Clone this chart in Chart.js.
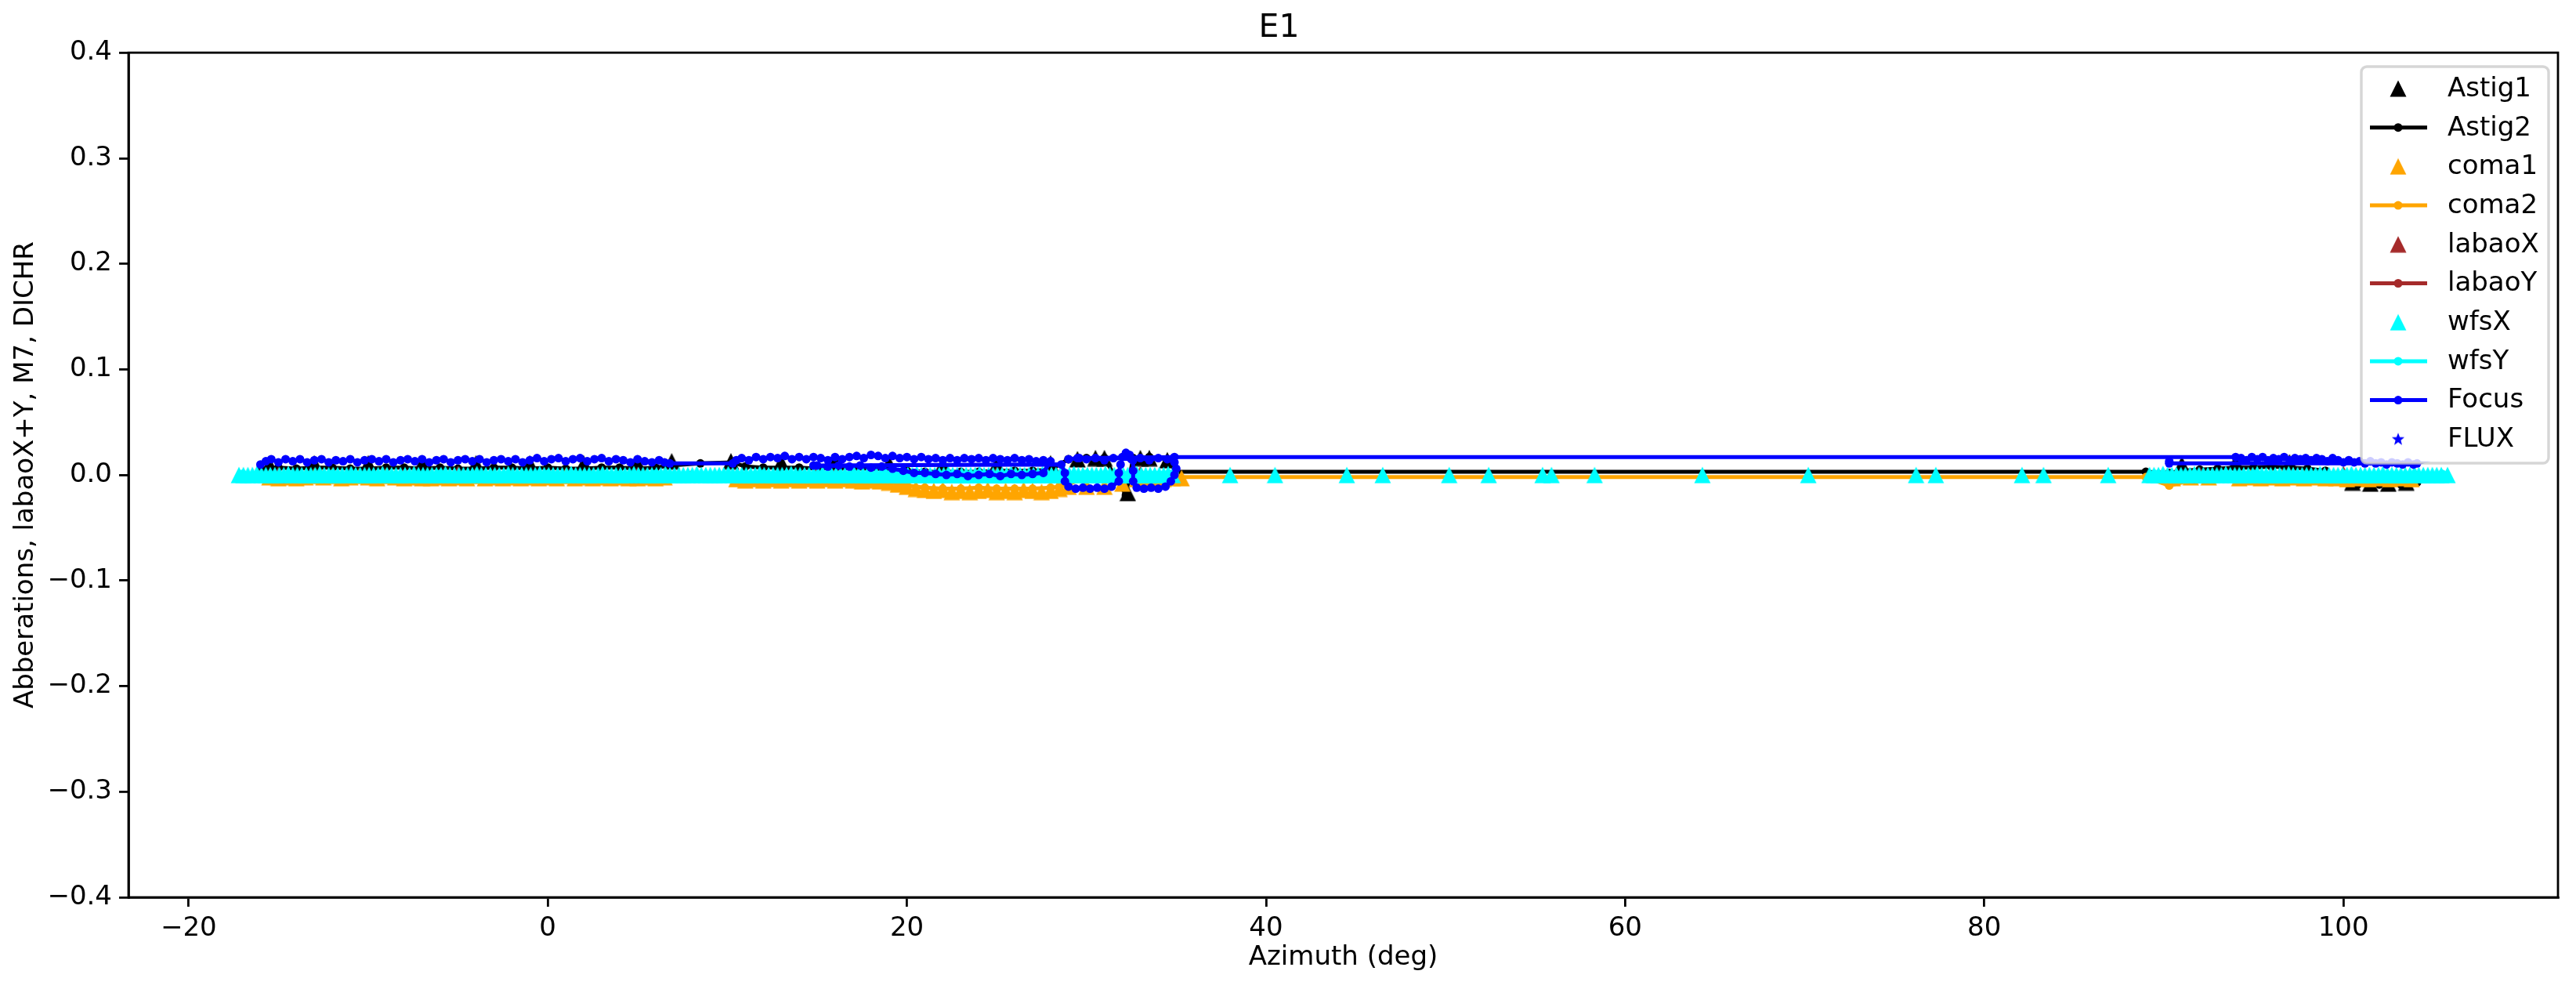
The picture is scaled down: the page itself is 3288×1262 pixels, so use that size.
<!DOCTYPE html>
<html>
<head>
<meta charset="utf-8">
<script src="https://cdn.jsdelivr.net/npm/chart.js@4.4.1/dist/chart.umd.min.js"></script>
<style>
  html, body { margin: 0; padding: 0; background: #fff; }
  canvas { display: block; }
</style>
</head>
<body>
<canvas id="aberrChart" width="3288" height="1262" style="width:3288px;height:1262px"></canvas>
<script>
// axis ticks
const xTicks = [-20, 0, 20, 40, 60, 80, 100];
const yTicks = [-0.4, -0.3, -0.2, -0.1, 0.0, 0.1, 0.2, 0.3, 0.4];

// series, [azimuth, value]; null value = gap in the line
const astig1 = [
  [-15.5,0.010],[-13,0.011],[-10,0.011],[-7,0.011],[-4,0.011],[-1,0.011],[2,0.011],[5,0.011],[6.9,0.013],
  [10.2,0.013],[13,0.012],[16,0.012],[19,0.011],[22,0.010],[25,0.010],[28,0.011],[29.5,0.015],[30.5,0.016],[31,0.016],
  [32.3,-0.017],[33.0,0.016],[33.5,0.016],[34.5,0.014],[91,0.010],[94,0.012],[97,0.012],[100.5,-0.007],[101.5,-0.008],
  [102.5,-0.008],[103.5,-0.007]
];
const astig2 = [
  [-16.0,0.006],[-15,0.007],[-14,0.006],[-13,0.007],[-12,0.007],[-11,0.006],[-10,0.006],[-9,0.007],[-8,0.007],
  [-7,0.006],[-6,0.007],[-5,0.006],[-4,0.006],[-3,0.007],[-2,0.007],[-1,0.006],[0,0.007],[1,0.006],[2,0.006],
  [3,0.007],[4,0.007],[5,0.006],[6,0.007],[6.8,0.009],[8.5,0.011],[10.3,0.012],[11,0.008],[12,0.007],[13,0.007],
  [14,0.007],[15,0.006],[16,0.007],[17,0.006],[18,0.006],[19,0.005],[20,0.004],[21,0.003],[22,0.003],[23,0.003],
  [24,0.003],[25,0.004],[26,0.004],[27,0.004],[28,0.005],[29,0.015],[30,0.016],[31,0.016],[32.2,-0.019],
  [32.6,0.016],[33.5,0.017],[34.5,0.015],[35,0.003],[89,0.003],[90.3,0.002],[91,0.004],[92,0.005],[93,0.006],
  [94,0.007],[95,0.007],[96,0.008],[97,0.007],[98,0.006],[99,0.004],[100.2,-0.007],[100.8,-0.009],[101.4,-0.008],
  [102,-0.009],[102.6,-0.008],[103.2,-0.009],[103.7,-0.008],[104.1,-0.007]
];
const coma1 = [
  [-15.5,-0.002],[-15.0,-0.003],[-14.5,-0.002],[-14.0,-0.003],[-13.5,-0.002],[-13.0,-0.001],[-12.5,-0.002],
  [-12.0,-0.001],[-11.5,-0.003],[-11.0,-0.002],[-10.5,-0.001],[-10.0,-0.002],[-9.5,-0.003],[-9.0,-0.001],
  [-8.5,-0.002],[-8.0,-0.003],[-7.5,-0.002],[-7.0,-0.003],[-6.5,-0.003],[-6.0,-0.002],[-5.5,-0.003],
  [-5.0,-0.002],[-4.5,-0.003],[-4.0,-0.001],[-3.5,-0.003],[-3.0,-0.002],[-2.5,-0.003],[-2.0,-0.002],
  [-1.5,-0.003],[-1.0,-0.002],[-0.5,-0.003],[0.0,-0.002],[0.5,-0.003],[1.0,-0.001],[1.5,-0.003],[2.0,-0.002],
  [2.5,-0.003],[3.0,-0.002],[3.5,-0.003],[4.0,-0.002],[4.5,-0.003],[5.0,-0.003],[5.5,-0.002],[6.0,-0.003],
  [6.5,-0.002],[10.5,-0.004],[11.0,-0.005],[11.5,-0.004],[12.0,-0.005],[12.5,-0.004],[13.0,-0.005],
  [13.5,-0.004],[14.0,-0.005],[14.5,-0.004],[15.0,-0.005],[15.5,-0.004],[16.0,-0.005],[16.5,-0.004],
  [17.0,-0.005],[17.5,-0.006],[18.0,-0.005],[18.5,-0.006],[19.0,-0.007],[19.5,-0.009],[20.0,-0.011],
  [20.5,-0.013],[21.0,-0.014],[21.5,-0.015],[22.0,-0.014],[22.5,-0.016],[23.0,-0.015],[23.5,-0.016],
  [24.0,-0.015],[24.5,-0.014],[25.0,-0.016],[25.5,-0.015],[26.0,-0.016],[26.5,-0.014],[27.0,-0.015],
  [27.5,-0.016],[28.0,-0.015],[28.5,-0.013],[29.0,-0.011],[30.0,-0.011],[31.0,-0.011],[32.0,-0.008],
  [32.8,-0.004],[33.3,-0.004],[33.8,-0.003],[34.3,-0.004],[34.8,-0.003],[35.3,-0.003],
  [90.5,-0.003],[91.5,-0.002],[92.5,-0.002],[94.2,-0.003],[94.8,-0.002],[95.4,-0.003],[96.0,-0.002],
  [96.6,-0.003],[97.2,-0.002],[97.8,-0.003],[98.4,-0.002],[99.0,-0.003],[99.6,-0.003],[100.2,-0.004],
  [100.8,-0.003],[101.4,-0.004],[102.0,-0.003],[102.6,-0.004],[103.2,-0.003],[103.8,-0.004]
];
const coma2 = [
  [-16,-0.002],[-14.5,-0.003],[-13,-0.003],[-11.5,-0.002],[-10,-0.002],[-8.5,-0.003],[-7,-0.003],[-5.5,-0.002],
  [-4,-0.002],[-2.5,-0.003],[-1,-0.003],[0.5,-0.002],[2,-0.002],[3.5,-0.003],[5,-0.003],[6.8,-0.002],
  [10.3,-0.004],[11.5,-0.004],[13,-0.004],[14.5,-0.005],[16,-0.004],[17.5,-0.005],[19,-0.006],[20,-0.010],
  [21,-0.012],[22,-0.013],[23,-0.013],[24,-0.012],[25,-0.013],[26,-0.013],[27,-0.013],[28,-0.012],
  [28.5,-0.011],[30,-0.003],[32,-0.002],[35,-0.002],[89,-0.002],[90.3,-0.010],[92,-0.003],[95,-0.003],
  [98,-0.003],[101,-0.004],[104,-0.004]
];
const labaoX = [
  [-15,0.000],[-5,0.001],[5,0.000],[15,0.001],[25,0.000],[33,0.001],[92,0.000],[100,0.001]
];
const labaoY = [
  [-16,0.000],[-8,0.001],[0,0.000],[8,0.000],[16,0.001],[24,0.000],[32,0.000],[34.8,0.001],
  [60,null],[90,0.000],[97,0.001],[104,0.000]
];
const wfsX = [
  [-17.2,0],[-16.95,0],[-16.7,0],[-16.45,0],[-16.2,0.001],[-15.95,0],[-15.7,0],[-15.45,0],[-15.2,0],[-14.95,0],
  [-14.7,0],[-14.45,0.001],[-14.2,0],[-13.95,0],[-13.7,0],[-13.45,0],[-13.2,0],[-12.95,0],[-12.7,0.001],[-12.45,0],
  [-12.2,0],[-11.95,0],[-11.7,0],[-11.45,0],[-11.2,0],[-10.95,0.001],[-10.7,0],[-10.45,0],[-10.2,0],[-9.95,0],
  [-9.7,0],[-9.45,0],[-9.2,0.001],[-8.95,0],[-8.7,0],[-8.45,0],[-8.2,0],[-7.95,0],[-7.7,0],[-7.45,0.001],
  [-7.2,0],[-6.95,0],[-6.7,0],[-6.45,0],[-6.2,0],[-5.95,0],[-5.7,0.001],[-5.45,0],[-5.2,0],[-4.95,0],
  [-4.7,0],[-4.45,0],[-4.2,0],[-3.95,0.001],[-3.7,0],[-3.45,0],[-3.2,0],[-2.95,0],[-2.7,0],[-2.45,0],
  [-2.2,0.001],[-1.95,0],[-1.7,0],[-1.45,0],[-1.2,0],[-0.95,0],[-0.7,0],[-0.45,0.001],[-0.2,0],[0.05,0],
  [0.3,0],[0.55,0],[0.8,0],[1.05,0],[1.3,0.001],[1.55,0],[1.8,0],[2.05,0],[2.3,0],[2.55,0],
  [2.8,0],[3.05,0.001],[3.3,0],[3.55,0],[3.8,0],[4.05,0],[4.3,0],[4.55,0],[4.8,0.001],[5.05,0],
  [5.3,0],[5.55,0],[5.8,0],[6.05,0],[6.3,0],[6.55,0.001],[6.8,0],[7.05,0],[7.3,0],[7.55,0],
  [7.8,0],[8.05,0],[8.3,0.001],[8.55,0],[8.8,0],[9.05,0],[9.3,0],[9.55,0],[9.8,0],[10.05,0.001],
  [10.3,0],[10.55,0],[10.8,0],[11.05,0],[11.3,0],[11.55,0],[11.8,0.001],[12.05,0],[12.3,0],[12.55,0],
  [12.8,0],[13.05,0],[13.3,0],[13.55,0.001],[13.8,0],[14.05,0],[14.3,0],[14.55,0],[14.8,0],[15.05,0],
  [15.3,0.001],[15.55,0],[15.8,0],[16.05,0],[16.3,0],[16.55,0],[16.8,0],[17.05,0.001],[17.3,0],[17.55,0],
  [17.8,0],[18.05,0],[18.3,0],[18.55,0],[18.8,0.001],[19.05,0],[19.3,0],[19.55,0],[19.8,0],[20.05,0],
  [20.3,0],[20.55,0.001],[20.8,0],[21.05,0],[21.3,0],[21.55,0],[21.8,0],[22.05,0],[22.3,0.001],[22.55,0],
  [22.8,0],[23.05,0],[23.3,0],[23.55,0],[23.8,0],[24.05,0.001],[24.3,0],[24.55,0],[24.8,0],[25.05,0],
  [25.3,0],[25.55,0],[25.8,0.001],[26.05,0],[26.3,0],[26.55,0],[26.8,0],[27.05,0],[27.3,0],[27.55,0.001],
  [27.8,0],[28.05,0],[28.3,0],[28.55,0],[28.8,0],[29.05,0],[29.3,0.001],[29.55,0],[29.8,0],[30.05,0],
  [30.3,0],[30.55,0],[30.8,0],[31.05,0.001],[31.3,0],[31.55,0],[31.8,0],[32.05,0],[32.3,0],[32.55,0],
  [32.8,0.001],[33.05,0],[33.3,0],[33.55,0],[33.8,0],[34.05,0],[34.3,0],[34.55,0.001],[34.8,0],
  [38.0,0],[40.5,0],[44.5,0],[46.5,0],[50.2,0],[52.4,0],[55.4,0],[55.9,0],
  [58.3,0],[64.3,0],[70.2,0],[76.2,0],[77.3,0],[82.1,0],[83.3,0],[86.9,0],
  [89.2,0],[89.45,0],[89.7,0],[89.95,0.001],[90.2,0],[90.45,0],[90.7,0],[90.95,0],[91.2,0],[91.45,0],
  [91.7,0.001],[91.95,0],[92.2,0],[92.45,0],[92.7,0],[92.95,0],[93.2,0],[93.45,0.001],[93.7,0],[93.95,0],
  [94.2,0],[94.45,0],[94.7,0],[94.95,0],[95.2,0.001],[95.45,0],[95.7,0],[95.95,0],[96.2,0],[96.45,0],
  [96.7,0],[96.95,0.001],[97.2,0],[97.45,0],[97.7,0],[97.95,0],[98.2,0],[98.45,0],[98.7,0.001],[98.95,0],
  [99.2,0],[99.45,0],[99.7,0],[99.95,0],[100.2,0],[100.45,0.001],[100.7,0],[100.95,0],[101.2,0],[101.45,0],
  [101.7,0],[101.95,0],[102.2,0.001],[102.45,0],[102.7,0],[102.95,0],[103.2,0],[103.45,0],[103.7,0],[103.95,0.001],
  [104.2,0],[104.45,0],[104.7,0],[104.95,0],[105.2,0],[105.45,0],[105.8,0]
];
const wfsY = [
  [-17,0.001],[-12,0.001],[-6,0.001],[0,0.001],[6,0.001],[12,0.001],[18,0.001],[24,0.001],[30,0.001],[34.9,0.002],
  [60,null],[89.5,0.001],[95,0.001],[100,0.001],[105.5,0.001]
];
const focus = [
  [-16.0,0.010],[-15.7,0.013],[-15.4,0.015],[-15.0,0.012],[-14.6,0.015],[-14.2,0.013],[-13.8,0.015],[-13.4,0.012],
  [-13.0,0.014],[-12.6,0.015],[-12.2,0.012],[-11.8,0.014],[-11.4,0.013],[-11.0,0.015],[-10.6,0.012],[-10.2,0.014],
  [-9.8,0.015],[-9.4,0.013],[-9.0,0.015],[-8.6,0.012],[-8.2,0.014],[-7.8,0.015],[-7.4,0.013],[-7.0,0.015],
  [-6.6,0.012],[-6.2,0.014],[-5.8,0.015],[-5.4,0.012],[-5.0,0.014],[-4.6,0.015],[-4.2,0.013],[-3.8,0.015],
  [-3.4,0.012],[-3.0,0.014],[-2.6,0.015],[-2.2,0.013],[-1.8,0.015],[-1.4,0.012],[-1.0,0.014],[-0.6,0.016],
  [-0.2,0.013],[0.2,0.015],[0.6,0.016],[1.0,0.013],[1.4,0.015],[1.8,0.016],[2.2,0.013],[2.6,0.015],
  [3.0,0.016],[3.4,0.013],[3.8,0.015],[4.2,0.014],[4.6,0.012],[5.0,0.015],[5.4,0.013],[5.8,0.012],
  [6.2,0.014],[6.5,0.012],[6.8,0.011],
  [10.3,0.011],[10.5,0.014],[10.8,0.016],[11.2,0.014],[11.6,0.017],[12.0,0.015],[12.4,0.017],[12.8,0.016],
  [13.2,0.018],[13.6,0.015],[14.0,0.017],[14.4,0.015],[14.8,0.017],[15.2,0.016],[15.6,0.014],[16.0,0.017],
  [16.4,0.015],[16.8,0.017],[17.2,0.018],[17.6,0.016],[18.0,0.019],[18.4,0.018],[18.8,0.016],[19.2,0.018],
  [19.6,0.016],[20.0,0.017],[20.4,0.015],[20.8,0.017],[21.2,0.015],[21.6,0.016],[22.0,0.014],[22.4,0.016],
  [22.8,0.014],[23.2,0.016],[23.6,0.015],[24.0,0.016],[24.4,0.014],[24.8,0.016],[25.2,0.015],[25.6,0.014],
  [26.0,0.016],[26.4,0.014],[26.8,0.015],[27.2,0.013],[27.6,0.014],[28.0,0.013],
  [27.6,0.002],[27.0,0.001],[26.4,0.000],[25.8,0.001],[25.2,-0.001],[24.6,0.001],[24.0,0.000],[23.4,-0.001],
  [22.8,0.001],[22.2,0.000],[21.6,0.001],[21.0,0.002],[20.4,0.002],[19.8,0.004],[19.2,0.006],[18.6,0.008],
  [18.0,0.007],[17.4,0.009],[16.8,0.008],[16.2,0.009],[15.6,0.008],[15.0,0.009],[14.8,0.009],
  [28.6,0.010],[28.8,0.002],[28.8,-0.006],[29.0,-0.011],[29.4,-0.013],[29.8,-0.012],[30.2,-0.013],[30.6,-0.012],
  [31.0,-0.013],[31.4,-0.011],[31.8,-0.006],[31.8,0.002],[31.9,0.010],[32.0,0.017],[32.2,0.021],[32.4,0.019],
  [32.6,0.014],[32.6,0.004],[32.6,-0.006],[32.8,-0.012],[33.2,-0.013],[33.6,-0.012],[34.0,-0.013],[34.4,-0.011],
  [34.7,-0.006],[34.9,0.000],[35.0,0.006],[34.9,0.012],[34.5,0.015],[34.0,0.016],[33.5,0.014],[33.0,0.016],
  [32.5,0.015],[31.5,0.016],[31.0,0.014],[30.5,0.016],[30.0,0.015],[29.5,0.016],[29.0,0.015],[29.6,0.016],
  [34.9,0.017],[94.0,0.017],
  [94.3,0.016],[94.6,0.014],[94.9,0.017],[95.2,0.015],[95.5,0.017],[95.8,0.014],[96.1,0.016],[96.4,0.015],
  [96.7,0.017],[97.0,0.014],[97.3,0.016],[97.6,0.015],[97.9,0.016],[98.2,0.014],[98.5,0.016],[98.8,0.015],
  [99.1,0.013],[99.4,0.016],[99.7,0.014],[100.0,0.012],[100.3,0.014],[100.6,0.012],[100.9,0.013],[101.2,0.011],
  [101.5,0.013],[101.8,0.011],[102.1,0.012],[102.4,0.010],[102.7,0.012],[103.0,0.011],[103.3,0.010],[103.6,0.012],
  [103.9,0.010],[104.1,0.011],
  [90.3,0.011],[90.3,0.013]
];
const flux = [];

const minus = s => s.replace('-', '\u2212');
const pts = arr => arr.map(p => ({ x: p[0], y: p[1] }));

// matplotlib-like markers as small canvases (centered on the point)
function triMarker(color) {
  const c = document.createElement('canvas');
  c.width = 22; c.height = 22;
  const g = c.getContext('2d');
  g.fillStyle = color;
  g.beginPath();
  g.moveTo(11, 0.5); g.lineTo(21.5, 21.5); g.lineTo(0.5, 21.5);
  g.closePath(); g.fill();
  return c;
}
function drawStar(ctx, cx, cy, r, color) {
  ctx.beginPath();
  for (let i = 0; i < 10; i++) {
    const a = -Math.PI / 2 + i * Math.PI / 5;
    const rr = i % 2 === 0 ? r : r * 0.42;
    const px = cx + Math.cos(a) * rr, py = cy + Math.sin(a) * rr;
    if (i === 0) ctx.moveTo(px, py); else ctx.lineTo(px, py);
  }
  ctx.closePath();
  ctx.fillStyle = color;
  ctx.fill();
}
function starMarker(color) {
  const c = document.createElement('canvas');
  c.width = 20; c.height = 20;
  drawStar(c.getContext('2d'), 10, 10.5, 8.5, color);
  return c;
}

function lineSet(label, data, color, idx) {
  return {
    label: label, data: pts(data), showLine: true, spanGaps: false,
    borderColor: color, backgroundColor: color, borderWidth: 5,
    pointStyle: 'circle', pointRadius: 5.5, pointBorderWidth: 0,
    pointBackgroundColor: color, order: 20 - idx, kind: 'line'
  };
}
function markSet(label, data, color, idx, star) {
  return {
    label: label, data: pts(data), showLine: false,
    borderColor: color, backgroundColor: color,
    pointStyle: star ? starMarker(color) : triMarker(color), pointRadius: 11,
    order: 20 - idx, kind: star ? 'star' : 'tri'
  };
}

const datasets = [
  markSet('Astig1', astig1, '#000000', 0),
  lineSet('Astig2', astig2, '#000000', 1),
  markSet('coma1', coma1, '#ffa500', 2),
  lineSet('coma2', coma2, '#ffa500', 3),
  markSet('labaoX', labaoX, '#a52a2a', 4),
  lineSet('labaoY', labaoY, '#a52a2a', 5),
  markSet('wfsX', wfsX, '#00ffff', 6),
  lineSet('wfsY', wfsY, '#00ffff', 7),
  lineSet('Focus', focus, '#0000ff', 8),
  markSet('FLUX', flux, '#0000ff', 9, true)
];

const font = 'DejaVu Sans';

// frame + matplotlib-like legend box
const framePlugin = {
  id: 'frameLegend',
  afterDraw(chart) {
    const ctx = chart.ctx, a = chart.chartArea;
    ctx.save();
    ctx.strokeStyle = '#000';
    ctx.lineWidth = 2.8;
    ctx.strokeRect(a.left, a.top, a.right - a.left, a.bottom - a.top);

    const bx = 3014, by = 85, bw = 239, bh = 506, rad = 7;
    ctx.beginPath();
    ctx.moveTo(bx + rad, by);
    ctx.arcTo(bx + bw, by, bx + bw, by + bh, rad);
    ctx.arcTo(bx + bw, by + bh, bx, by + bh, rad);
    ctx.arcTo(bx, by + bh, bx, by, rad);
    ctx.arcTo(bx, by, bx + bw, by, rad);
    ctx.closePath();
    ctx.fillStyle = 'rgba(255,255,255,0.8)';
    ctx.fill();
    ctx.strokeStyle = 'rgba(204,204,204,0.8)';
    ctx.lineWidth = 3.4;
    ctx.stroke();

    ctx.font = '34px "' + font + '"';
    ctx.textBaseline = 'middle';
    ctx.textAlign = 'left';
    chart.data.datasets.forEach((ds, i) => {
      const y = 113 + i * 49.7, mx = 3061;
      const c = ds.borderColor;
      if (ds.kind === 'line') {
        ctx.strokeStyle = c; ctx.lineWidth = 5;
        ctx.beginPath(); ctx.moveTo(3025, y); ctx.lineTo(3098, y); ctx.stroke();
        ctx.fillStyle = c;
        ctx.beginPath(); ctx.arc(mx, y, 5.5, 0, Math.PI * 2); ctx.fill();
      } else {
        ctx.drawImage(ds.pointStyle, mx - ds.pointStyle.width / 2, y - ds.pointStyle.height / 2);
      }
      ctx.fillStyle = '#000';
      ctx.fillText(ds.label, 3124, y + 1);
    });
    ctx.restore();
  }
};

new Chart(document.getElementById('aberrChart'), {
  type: 'scatter',
  data: { datasets: datasets },
  plugins: [framePlugin],
  options: {
    responsive: false,
    animation: false,
    devicePixelRatio: 1,
    layout: { padding: { left: 0, right: 23, top: 0, bottom: 0 } },
    plugins: {
      legend: { display: false },
      tooltip: { enabled: false },
      title: {
        display: true, text: 'E1', color: '#000',
        font: { family: font, size: 41, weight: 'normal', lineHeight: 1.2 },
        padding: { top: 12, bottom: 6 }
      }
    },
    scales: {
      x: {
        type: 'linear', min: -23.35, max: 111.95,
        afterFit: s => { s.height = 117; },
        afterBuildTicks: s => { s.ticks = xTicks.map(v => ({ value: v })); },
        ticks: {
          color: '#000', padding: 8, maxRotation: 0,
          font: { family: font, size: 34 },
          callback: v => minus(String(v))
        },
        grid: { display: true, drawOnChartArea: false, drawTicks: true, tickLength: 12, color: '#000', lineWidth: 2.8 },
        border: { display: true, color: '#000', width: 2.8 },
        title: {
          display: true, text: 'Azimuth (deg)', color: '#000',
          font: { family: font, size: 34, lineHeight: 1.2 },
          padding: { top: 0, bottom: 19 }
        }
      },
      y: {
        type: 'linear', min: -0.4, max: 0.4,
        afterFit: s => { s.width = 164; },
        afterBuildTicks: s => { s.ticks = yTicks.map(v => ({ value: v })); },
        ticks: {
          color: '#000', padding: 9,
          font: { family: font, size: 34 },
          callback: v => minus(Number(v).toFixed(1))
        },
        grid: { display: true, drawOnChartArea: false, drawTicks: true, tickLength: 12, color: '#000', lineWidth: 2.8 },
        border: { display: true, color: '#000', width: 2.8 },
        title: {
          display: true, text: 'Abberations, labaoX+Y, M7, DICHR', color: '#000',
          font: { family: font, size: 34, lineHeight: 1.2 },
          padding: { top: 13, bottom: 0 }
        }
      }
    }
  }
});
</script>
</body>
</html>
